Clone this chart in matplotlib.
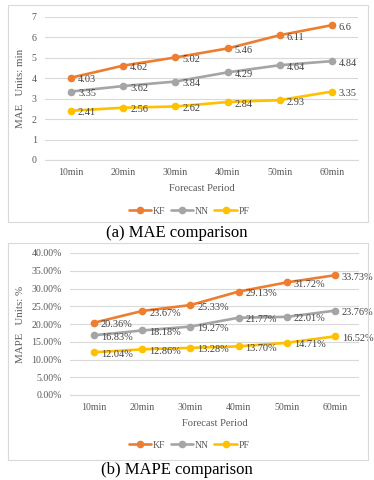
import matplotlib
matplotlib.use("Agg")
import matplotlib.pyplot as plt
from matplotlib.patches import Rectangle
from matplotlib.ticker import FuncFormatter

plt.rcParams['font.family'] = ['Liberation Serif', 'DejaVu Serif']

periods = ["10min", "20min", "30min", "40min", "50min", "60min"]
series_names = ["KF", "NN", "PF"]
mae_kf = [4.03, 4.62, 5.02, 5.46, 6.11, 6.6]
mae_nn = [3.35, 3.62, 3.84, 4.29, 4.64, 4.84]
mae_pf = [2.41, 2.56, 2.62, 2.84, 2.93, 3.35]
mape_kf = [20.36, 23.67, 25.33, 29.13, 31.72, 33.73]
mape_nn = [16.83, 18.18, 19.27, 21.77, 22.01, 23.76]
mape_pf = [12.04, 12.86, 13.28, 13.70, 14.71, 16.52]
mae_ticks = [0, 1, 2, 3, 4, 5, 6, 7]
mape_ticks = [0, 5, 10, 15, 20, 25, 30, 35, 40]

colors = ["#ED7D31", "#A5A5A5", "#FFC000"]
W, H = 374, 480
fig = plt.figure(figsize=(W / 100, H / 100), dpi=100)
fig.patch.set_facecolor("white")

def fx(x): return x / W
def fy(y): return 1 - y / H

# boxes
for (y0, y1) in [(5, 222), (243, 460)]:
    fig.patches.append(Rectangle((fx(8), fy(y1)), fx(368) - fx(8), fy(y0) - fy(y1),
                                 transform=fig.transFigure, fill=False,
                                 edgecolor="#D9D9D9", lw=0.8))

tick_color = "#595959"
label_color = "#404040"

def make(ax, data, yticks, fmt, ylabel, lbl_fmt, legend_y):
    x = list(range(len(periods)))
    handles = []
    for vals, c, name in zip(data, colors, series_names):
        h, = ax.plot(x, vals, color=c, lw=1.9, marker='o', ms=4.5, label=name,
                     solid_capstyle='round', zorder=3)
        handles.append(h)
        for xi, v in zip(x, vals):
            ax.annotate(lbl_fmt(v), (xi, v), xytext=(5, -1.5), textcoords='offset points',
                        ha='left', va='center', fontsize=7.4, color=label_color, zorder=4)
    ax.set_xlim(-0.5, len(periods) - 0.5)
    ax.set_ylim(yticks[0], yticks[-1])
    ax.set_yticks(yticks)
    ax.yaxis.set_major_formatter(FuncFormatter(fmt))
    ax.set_xticks(x)
    ax.set_xticklabels(periods)
    ax.grid(axis='y', color="#D9D9D9", lw=0.8)
    ax.set_axisbelow(True)
    for s in ['top', 'right', 'left']:
        ax.spines[s].set_visible(False)
    ax.spines['bottom'].set_color("#D9D9D9")
    ax.spines['bottom'].set_linewidth(0.8)
    ax.tick_params(axis='both', length=0, labelsize=7.1, colors=tick_color, pad=6)
    ax.set_ylabel(ylabel, fontsize=7.8, color=tick_color)
    ax.set_xlabel("Forecast Period", fontsize=7.6, color=tick_color, labelpad=5)
    fig.legend(handles=handles, loc='center', bbox_to_anchor=(fx(189), fy(legend_y)),
               ncol=3, frameon=False, fontsize=7, labelcolor=tick_color,
               handlelength=2.3, columnspacing=0.6, handletextpad=0.15,
               bbox_transform=fig.transFigure)

ax1 = fig.add_axes([fx(45), fy(160), fx(358) - fx(45), fy(17) - fy(160)])
make(ax1, [mae_kf, mae_nn, mae_pf], mae_ticks, lambda v, p: f"{v:g}",
     "MAE   Units: min", lambda v: f"{v:g}", 211)

ax2 = fig.add_axes([fx(70), fy(395), fx(359) - fx(70), fy(253) - fy(395)])
make(ax2, [mape_kf, mape_nn, mape_pf], mape_ticks, lambda v, p: f"{v:.2f}%",
     "MAPE   Units: %", lambda v: f"{v:.2f}%", 445)

# place y labels at fixed figure x
for ax in (ax1, ax2):
    pos = ax.get_position()
    ax.yaxis.set_label_coords((fx(25) - pos.x0) / pos.width, 0.5)

fig.text(fx(177), fy(233), "(a) MAE comparison", ha='center', va='center', fontsize=12, color="black")
fig.text(fx(177), fy(470), "(b) MAPE comparison", ha='center', va='center', fontsize=12, color="black")

fig.savefig("out.png", dpi=100, facecolor="white")
